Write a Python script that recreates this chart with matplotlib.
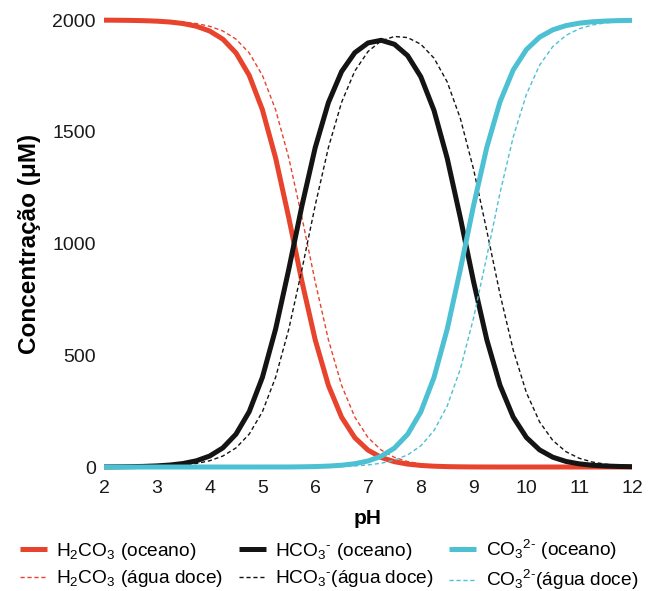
import matplotlib
matplotlib.use("Agg")
import matplotlib.pyplot as plt

plt.rcParams['font.family'] = ['Liberation Sans', 'DejaVu Sans']
plt.rcParams['mathtext.fontset'] = 'custom'
plt.rcParams['mathtext.rm'] = 'Liberation Sans'
plt.rcParams['mathtext.default'] = 'regular'

# pH grid, step 0.25
ph = [2 + 0.25 * i for i in range(41)]

# oceano (uM)
h2co3_ocean = [1999.5, 1999.1, 1998.4, 1997.2, 1995.0, 1991.1, 1984.2, 1972.1, 1951.0, 1914.5,
               1852.8, 1752.4, 1598.5, 1382.5, 1114.6, 828.5, 568.9, 365.1, 222.8, 131.2,
               75.5, 42.7, 23.8, 13.0, 7.0, 3.6, 1.7, 0.8, 0.3, 0.1,
               0, 0, 0, 0, 0, 0, 0, 0, 0, 0, 0]
hco3_ocean = [0.5, 0.9, 1.6, 2.8, 5.0, 8.9, 15.8, 27.9, 49.0, 85.5,
              147.2, 247.6, 401.5, 617.5, 885.4, 1170.7, 1429.1, 1630.9, 1769.6, 1854.0,
              1897.6, 1909.4, 1891.6, 1840.8, 1746.3, 1595.6, 1381.3, 1114.2, 828.7, 569.5,
              365.8, 223.6, 132.2, 76.6, 43.8, 24.9, 14.1, 7.9, 4.5, 2.5, 1.4]
co3_ocean = [0, 0, 0, 0, 0, 0, 0, 0, 0, 0,
             0, 0, 0.1, 0.1, 0.2, 0.9, 2.0, 4.1, 7.9, 14.7,
             26.8, 48.0, 84.5, 146.2, 246.7, 400.8, 617.0, 885.0, 1171.0, 1430.4,
             1634.1, 1776.4, 1867.8, 1923.4, 1956.2, 1975.1, 1985.9, 1992.1, 1995.5, 1997.5, 1998.6]

# agua doce
h2co3_doce = [1999.7, 1999.5, 1999.1, 1998.4, 1997.2, 1995.0, 1991.1, 1984.2, 1972.1, 1951.0,
              1914.5, 1852.8, 1752.4, 1598.5, 1382.5, 1114.6, 828.6, 569.1, 365.4, 223.1,
              131.6, 75.9, 43.1, 24.2, 13.4, 7.3, 3.9, 2.0, 0.9, 0.4,
              0.1, 0, 0, 0, 0, 0, 0, 0, 0, 0, 0]
hco3_doce = [0.3, 0.5, 0.9, 1.6, 2.8, 5.0, 8.9, 15.8, 27.9, 49.0,
             85.5, 147.2, 247.6, 401.5, 617.5, 885.4, 1170.8, 1429.6, 1632.1, 1771.9,
             1859.2, 1907.1, 1926.4, 1921.6, 1891.8, 1829.6, 1723.1, 1558.8, 1331.6, 1057.2,
             773.7, 523.8, 332.7, 201.8, 118.7, 68.5, 39.1, 22.2, 12.5, 7.1, 4.0]
co3_doce = [0, 0, 0, 0, 0, 0, 0, 0, 0, 0,
            0, 0, 0, 0, 0, 0, 0.6, 1.3, 2.6, 5.0,
            9.3, 17.0, 30.5, 54.1, 94.8, 163.1, 273.1, 439.2, 667.4, 942.3,
            1226.3, 1476.2, 1667.3, 1798.2, 1881.3, 1931.5, 1960.9, 1977.8, 1987.5, 1992.9, 1996.0]

RED = '#e8432d'
BLACK = '#141414'
CYAN = '#4dc0d3'

fig = plt.figure(figsize=(6.51, 5.91), dpi=100)
ax = fig.add_axes([0.1598, 0.2098, 0.811, 0.7563])

solid = dict(lw=3.6, solid_capstyle='butt', clip_on=False)
dashed = dict(lw=1.0, ls=(0, (3, 2)), clip_on=False)

ax.plot(ph, h2co3_ocean, color=RED, label=r'H$_2$CO$_3$ (oceano)', **solid)
ax.plot(ph, h2co3_doce, color=RED, label=r'H$_2$CO$_3$ (água doce)', **dashed)
ax.plot(ph, hco3_ocean, color=BLACK, label=r'HCO$_3{}^{\text{-}}$ (oceano)', **solid)
ax.plot(ph, hco3_doce, color=BLACK, label=r'HCO$_3{}^{\text{-}}$(água doce)', **dashed)
ax.plot(ph, co3_ocean, color=CYAN, label=r'CO$_3{}^{2\text{-}}$ (oceano)', **solid)
ax.plot(ph, co3_doce, color=CYAN, label=r'CO$_3{}^{2\text{-}}$(água doce)', **dashed)

ax.set_xlim(2, 12)
ax.set_ylim(0, 2000)
ax.set_xticks(range(2, 13))
ax.set_yticks([0, 500, 1000, 1500, 2000])
ax.tick_params(length=0, labelsize=14, colors='#1a1a1a')
ax.tick_params(axis='y', pad=6)
ax.tick_params(axis='x', pad=9)
for s in ax.spines.values():
    s.set_visible(False)

ax.set_xlabel('pH', fontsize=15, fontweight='bold', labelpad=9)
ax.set_ylabel('Concentração (μM)', fontsize=17.5, fontweight='bold', labelpad=8)

fig.legend(loc='upper left', bbox_to_anchor=(20 / 651, 1 - 538 / 591), ncol=3, frameon=False,
           fontsize=13.8, handlelength=1.4, handletextpad=0.5, columnspacing=0.8,
           labelspacing=0.32, borderpad=0, borderaxespad=0)

fig.savefig('out.png', dpi=100)
